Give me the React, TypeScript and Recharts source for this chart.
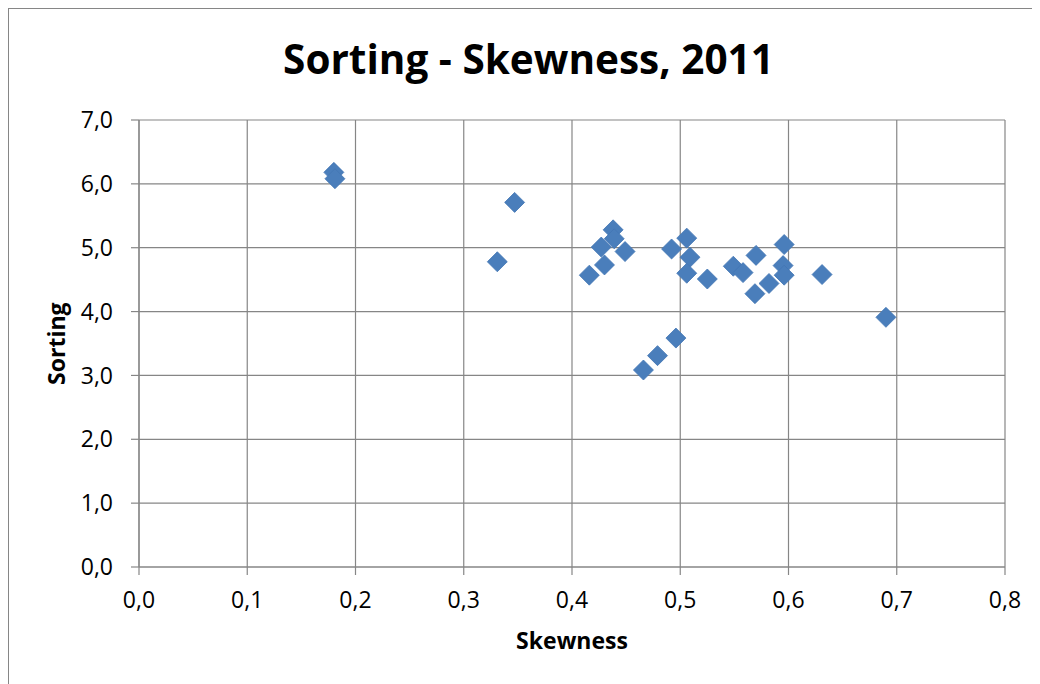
import { CartesianGrid, Scatter, ScatterChart, XAxis, YAxis } from 'recharts';

const skewness = [
  0.18, 0.181, 0.347, 0.331, 0.438, 0.439, 0.427, 0.449, 0.43, 0.416,
  0.492, 0.506, 0.509, 0.506, 0.525, 0.549, 0.558, 0.57, 0.569, 0.582,
  0.596, 0.595, 0.596, 0.631, 0.69, 0.496, 0.479, 0.466
];
const sorting = [
  6.18, 6.08, 5.71, 4.78, 5.28, 5.14, 5.01, 4.94, 4.73, 4.57,
  4.98, 5.15, 4.85, 4.6, 4.51, 4.71, 4.61, 4.88, 4.28, 4.44,
  5.05, 4.72, 4.57, 4.58, 3.91, 3.585, 3.31, 3.085
];
const xTicks = [0, 0.1, 0.2, 0.3, 0.4, 0.5, 0.6, 0.7, 0.8];
const yTicks = [0, 1, 2, 3, 4, 5, 6, 7];

const points = skewness.map((x, i) => ({ x, y: sorting[i] }));

const font = "'Open Sans', 'Liberation Sans', sans-serif";
const gray = '#868686';
const fmt = (v: number) => v.toFixed(1).replace('.', ',');

function Diamond(props: any) {
  const { cx, cy } = props;
  const r = 10;
  return (
    <polygon
      points={`${cx},${cy - r} ${cx + r},${cy} ${cx},${cy + r} ${cx - r},${cy}`}
      fill="#4A7EBB"
      stroke="#4376B4"
      strokeWidth={0.8}
    />
  );
}

export default function App() {
  return (
    <div
      style={{
        position: 'relative',
        width: 1032,
        height: 676,
        boxSizing: 'border-box',
        borderLeft: `1px solid ${gray}`,
        borderTop: `1px solid ${gray}`,
        background: '#fff'
      }}
    >
      <ScatterChart width={1031} height={675} margin={{ top: 111, right: 35, bottom: 77, left: 50 }}>
        <CartesianGrid stroke={gray} strokeWidth={1.2} />
        <XAxis
          type="number"
          dataKey="x"
          domain={[0, 0.8]}
          ticks={xTicks}
          tickFormatter={fmt}
          stroke={gray}
          strokeWidth={1.2}
          tickSize={8}
          tickMargin={17}
          height={40}
          tick={{ fill: '#000', fontSize: 23, fontFamily: font }}
        />
        <YAxis
          type="number"
          dataKey="y"
          domain={[0, 7]}
          ticks={yTicks}
          tickFormatter={fmt}
          stroke={gray}
          strokeWidth={1.2}
          tickSize={8}
          tickMargin={18}
          width={80}
          tick={{ fill: '#000', fontSize: 23, fontFamily: font }}
        />
        <Scatter data={points} shape={Diamond} isAnimationActive={false} />
      </ScatterChart>
      <svg
        width={1031}
        height={675}
        style={{ position: 'absolute', left: 0, top: 0, pointerEvents: 'none' }}
      >
        <text x={519.5} y={64.5} textAnchor="middle" fontFamily={font} fontWeight={700} fontSize={40.5} fill="#000">
          Sorting - Skewness, 2011
        </text>
        <text x={563} y={640.3} textAnchor="middle" fontFamily={font} fontWeight={700} fontSize={23} fill="#000">
          Skewness
        </text>
        <text
          x={56}
          y={334.7}
          textAnchor="middle"
          transform="rotate(-90, 56, 334.7)"
          fontFamily={font}
          fontWeight={700}
          fontSize={23}
          fill="#000"
        >
          Sorting
        </text>
      </svg>
    </div>
  );
}
